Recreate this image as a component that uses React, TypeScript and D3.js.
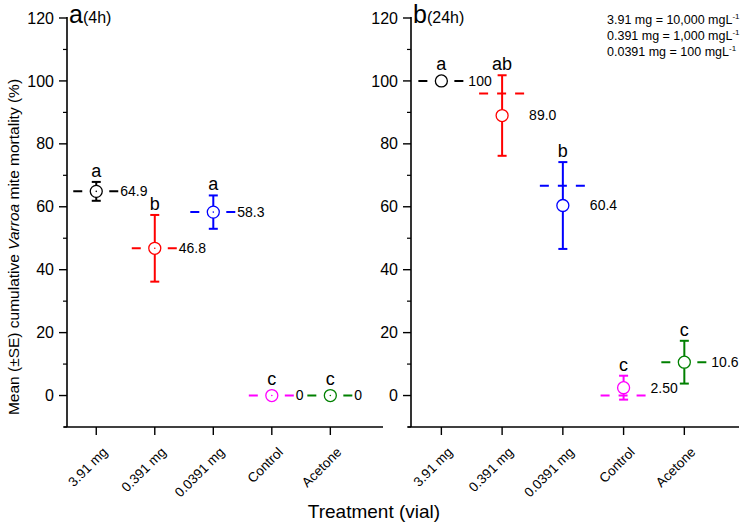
import React from 'react';
import * as d3 from 'd3';

// treatments and colours
const categories = ['3.91 mg', '0.391 mg', '0.0391 mg', 'Control', 'Acetone'];
const colors = ['#000000', '#ff0000', '#0000ff', '#ff00ff', '#008000'];

// panel a (4h)
const mean4h = [64.9, 46.8, 58.3, 0, 0];
const se4h = [3.0, 10.6, 5.3, 0, 0];
const mid4h = [64.9, 46.8, 58.3, 0, 0];
const letters4h = ['a', 'b', 'a', 'c', 'c'];
const labels4h = ['64.9', '46.8', '58.3', '0', '0'];

// panel b (24h)
const mean24h = [100, 89.0, 60.4, 2.5, 10.6];
const se24h = [0, 12.8, 13.8, 3.8, 6.8];
const mid24h = [100, 96, 66.7, 0, 10.6];
const letters24h = ['a', 'ab', 'b', 'c', 'c'];
const labels24h = ['100', '89.0', '60.4', '2.50', '10.6'];

const legendLines = [
  ['3.91 mg = 10,000 mgL', '-1'],
  ['0.391 mg = 1,000 mgL', '-1'],
  ['0.0391 mg = 100 mgL', '-1'],
];

const yTicks = [0, 20, 40, 60, 80, 100, 120];
const yMinor = [-10, 10, 30, 50, 70, 90, 110];

const FONT = 'Liberation Sans, Arial, sans-serif';

const y = d3.scaleLinear().domain([-10, 120]).range([427, 18]);

type PanelProps = {
  x: d3.ScaleLinear<number, number>;
  mean: number[];
  se: number[];
  mid: number[];
  letters: string[];
  labels: string[];
  dot: boolean;
  labelDx: number;
  title: string;
  sub: string;
};

const Panel = ({ x, mean, se, mid, letters, labels, dot, labelDx, title, sub }: PanelProps) => {
  const [x0, x1] = x.range();
  const yBottom = y.range()[0];
  const r = 6;
  return (
    <g fontFamily={FONT}>
      {/* axes */}
      <line x1={x0} x2={x0} y1={y(120) - 1} y2={yBottom} stroke="#000" strokeWidth={1.6} />
      <line x1={x0 - 3} x2={x1} y1={yBottom} y2={yBottom} stroke="#000" strokeWidth={1.6} />
      {yTicks.map(t => (
        <g key={t}>
          <line x1={x0 - 8} x2={x0} y1={y(t)} y2={y(t)} stroke="#000" strokeWidth={1.4} />
          <text x={x0 - 13} y={y(t)} dy="0.35em" textAnchor="end" fontSize={16}>{t}</text>
        </g>
      ))}
      {yMinor.map(t => (
        <line key={t} x1={x0 - 4} x2={x0} y1={y(t)} y2={y(t)} stroke="#000" strokeWidth={1.2} />
      ))}
      {categories.map((c, i) => {
        const cx = x(i + 1);
        return (
          <g key={c}>
            <line x1={cx} x2={cx} y1={yBottom} y2={yBottom + 8} stroke="#000" strokeWidth={1.4} />
            <text
              transform={`translate(${cx + 12},${yBottom + 26}) rotate(-45)`}
              textAnchor="end"
              fontSize={13.5}
            >{c}</text>
          </g>
        );
      })}
      {/* title */}
      <text x={x0 + 2} y={23} fontSize={25}>{title}<tspan fontSize={16}>{sub}</tspan></text>
      {/* marks */}
      {categories.map((c, i) => {
        const cx = x(i + 1);
        const col = colors[i];
        const cy = y(mean[i]);
        const top = se[i] > 0 ? y(mean[i] + se[i]) : cy - r;
        return (
          <g key={c}>
            <line x1={cx - 23} x2={cx + 23} y1={y(mid[i])} y2={y(mid[i])} stroke={col}
              strokeWidth={2} strokeDasharray="9,9" />
            {se[i] > 0 && (
              <g stroke={col} strokeWidth={2}>
                <line x1={cx} x2={cx} y1={y(mean[i] - se[i])} y2={y(mean[i] + se[i])} />
                <line x1={cx - 4.5} x2={cx + 4.5} y1={y(mean[i] + se[i])} y2={y(mean[i] + se[i])} />
                <line x1={cx - 4.5} x2={cx + 4.5} y1={y(mean[i] - se[i])} y2={y(mean[i] - se[i])} />
              </g>
            )}
            <circle cx={cx} cy={cy} r={r} fill="#fff" stroke={col} strokeWidth={1.3} />
            {dot && <circle cx={cx} cy={cy} r={0.8} fill={col} />}
            <text x={cx} y={top - 5} textAnchor="middle" fontSize={18}>{letters[i]}</text>
            <text x={cx + labelDx} y={cy} dy="0.35em" fontSize={14}>{labels[i]}</text>
          </g>
        );
      })}
    </g>
  );
};

const App = () => {
  const xA = d3.scaleLinear().domain([0.5, 5.9]).range([67, 383]);
  const xB = d3.scaleLinear().domain([0.5, 5.9]).range([411, 739]);
  return (
    <svg width={740} height={526} style={{ position: 'absolute', left: 0, top: 0, background: '#fff' }}>
      <rect width={740} height={526} fill="#fff" />
      <Panel x={xA} mean={mean4h} se={se4h} mid={mid4h} letters={letters4h} labels={labels4h}
        dot={true} labelDx={24} title="a" sub="(4h)" />
      <Panel x={xB} mean={mean24h} se={se24h} mid={mid24h} letters={letters24h} labels={labels24h}
        dot={false} labelDx={27} title="b" sub="(24h)" />
      {/* legend note */}
      <g fontFamily={FONT} fontSize={12.5}>
        {legendLines.map((l, i) => (
          <text key={i} x={607} y={24 + i * 16}>
            {l[0]}<tspan fontSize={8} dy={-5}>{l[1]}</tspan>
          </text>
        ))}
      </g>
      <text transform="translate(19,247) rotate(-90)" textAnchor="middle" fontFamily={FONT} fontSize={15.5}>
        Mean (±SE) cumulative <tspan fontStyle="italic">Varroa</tspan> mite mortality (%)
      </text>
      <text x={374} y={518} textAnchor="middle" fontFamily={FONT} fontSize={19}>Treatment (vial)</text>
    </svg>
  );
};

export default App;
